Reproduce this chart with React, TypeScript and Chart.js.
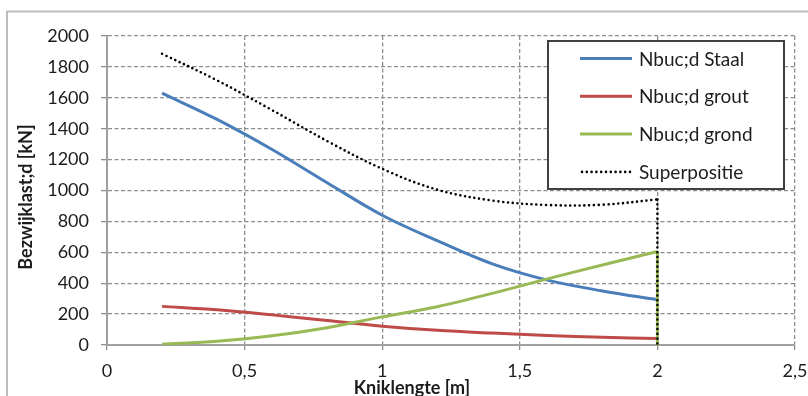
import React, { useEffect, useRef } from 'react';
import { Chart, registerables } from 'chart.js';

Chart.register(...registerables);

// ---- data ----
const kniklengte = [0.2, 0.4, 0.6, 0.8, 1.0, 1.2, 1.4, 1.6, 1.8, 2.0];
const staal = [1630, 1460, 1265, 1050, 840, 675, 525, 420, 350, 293];
const grout = [250, 228, 195, 158, 122, 95, 77, 62, 50, 42];
const grond = [5, 25, 60, 112, 182, 248, 334, 428, 518, 605];
const superpositie = [1885, 1713, 1520, 1320, 1140, 1005, 935, 906, 908, 942];
const seriesNames = ['Nbuc;d Staal', 'Nbuc;d grout', 'Nbuc;d grond', 'Superpositie'];
const xTickValues = [0, 0.5, 1, 1.5, 2, 2.5];
const yTickStep = 200;
const yMax = 2000;
const xTitle = 'Kniklengte [m]';
const yTitle = 'Bezwijklast;d [kN]';

const COLORS = { staal: '#4a7ebb', grout: '#be4b48', grond: '#98b954', sup: '#000000' };
const TEXT = '#1c1c1c';
const FONT = 'Lato';
const GRID = '#8e8e8e';

const pts = (ys: number[]) => kniklengte.map((x, i) => ({ x, y: ys[i] }));
const drop = (ys: number[]) => {
  const last = kniklengte.length - 1;
  return [
    { x: kniklengte[last], y: ys[last] },
    { x: kniklengte[last], y: 0 },
  ];
};

const framePlugin = {
  id: 'frame',
  beforeDraw(chart: any) {
    const { ctx, width, height } = chart;
    ctx.save();
    ctx.fillStyle = '#ffffff';
    ctx.fillRect(0, 0, width, height);
    ctx.strokeStyle = '#bdbdbd';
    ctx.lineWidth = 2;
    ctx.strokeRect(7, 11.5, width + 50, height + 50);
    ctx.restore();
  },
};

const overlayPlugin = {
  id: 'overlay',
  afterDraw(chart: any) {
    const { ctx } = chart;
    ctx.save();
    // axis titles
    ctx.fillStyle = TEXT;
    ctx.font = `bold 18px ${FONT}`;
    ctx.textAlign = 'center';
    ctx.textBaseline = 'middle';
    ctx.fillText(xTitle, 412, 388);
    ctx.translate(26, 197);
    ctx.rotate(-Math.PI / 2);
    ctx.fillText(yTitle, 0, 0);
    ctx.restore();

    // legend box
    ctx.save();
    ctx.fillStyle = '#ffffff';
    ctx.fillRect(548, 41, 236, 148);
    ctx.strokeStyle = '#404040';
    ctx.lineWidth = 2;
    ctx.strokeRect(548, 41, 236, 148);
    const items = chart.data.datasets.filter((d: any) => d.inLegend);
    items.sort((a: any, b: any) => a.legendIndex - b.legendIndex);
    items.forEach((d: any, i: number) => {
      const y = 58.5 + i * 37.8;
      ctx.beginPath();
      ctx.strokeStyle = d.borderColor;
      ctx.lineWidth = d.borderWidth;
      ctx.setLineDash(d.borderDash || []);
      ctx.lineCap = d.borderCapStyle || 'butt';
      ctx.moveTo(d.borderDash ? 582 : 580, y);
      ctx.lineTo(632, y);
      ctx.stroke();
      ctx.setLineDash([]);
      ctx.fillStyle = TEXT;
      ctx.font = `19px ${FONT}`;
      ctx.textAlign = 'left';
      ctx.textBaseline = 'middle';
      ctx.fillText(d.label, 639, y + 1);
    });
    ctx.restore();
  },
};

export default function App() {
  const ref = useRef<HTMLCanvasElement>(null);

  useEffect(() => {
    if (!ref.current) return;
    const solid = (label: string, data: any[], color: string, legendIndex: number) => ({
      label,
      data,
      borderColor: color,
      backgroundColor: color,
      borderWidth: 3,
      pointRadius: 0,
      tension: 0.35,
      fill: false,
      inLegend: true,
      legendIndex,
    });
    const dotted = {
      borderColor: COLORS.sup,
      backgroundColor: COLORS.sup,
      borderWidth: 2.6,
      borderDash: [0, 4.8],
      borderCapStyle: 'round',
      pointRadius: 0,
      fill: false,
    };
    const chart = new Chart(ref.current, {
      type: 'line',
      data: {
        datasets: [
          { ...dotted, label: seriesNames[3], data: pts(superpositie), tension: 0.35, inLegend: true, legendIndex: 3 },
          { ...dotted, label: seriesNames[3] + ' drop', data: drop(superpositie), tension: 0 },
          solid(seriesNames[2], pts(grond), COLORS.grond, 2),
          { ...solid(seriesNames[2] + ' drop', drop(grond), COLORS.grond, 9), inLegend: false, tension: 0 },
          solid(seriesNames[1], pts(grout), COLORS.grout, 1),
          solid(seriesNames[0], pts(staal), COLORS.staal, 0),
        ] as any,
      },
      options: {
        responsive: false,
        animation: false,
        events: [],
        layout: { padding: { top: 36, right: 13, left: 0, bottom: 0 } },
        plugins: { legend: { display: false }, tooltip: { enabled: false }, title: { display: false } },
        scales: {
          x: {
            type: 'linear',
            min: 0,
            max: 2.5,
            afterBuildTicks: (s: any) => {
              s.ticks = xTickValues.map((v) => ({ value: v }));
            },
            afterFit: (s: any) => {
              s.height = 51;
              s.paddingLeft = 0;
              s.paddingRight = 0;
            },
            ticks: {
              color: TEXT,
              font: { family: FONT, size: 18 },
              padding: 10,
              maxRotation: 0,
              callback: (v: any) => String(v).replace('.', ','),
            },
            grid: {
              color: GRID,
              lineWidth: 1.3,
              tickLength: 5,
              tickColor: GRID,
              tickBorderDash: [],
            },
            border: { color: '#a0a0a0', width: 2, dash: [4, 2.5] },
          },
          y: {
            type: 'linear',
            min: 0,
            max: yMax,
            afterFit: (s: any) => {
              s.width = 107;
              s.paddingTop = 0;
              s.paddingBottom = 0;
            },
            ticks: {
              stepSize: yTickStep,
              color: TEXT,
              font: { family: FONT, size: 18 },
              padding: 12,
              callback: (v: any) => String(v),
            },
            grid: {
              color: GRID,
              lineWidth: 1.3,
              tickLength: 6,
              tickColor: GRID,
              tickBorderDash: [],
            },
            border: { color: '#a0a0a0', width: 2, dash: [4, 2.5] },
          },
        },
      } as any,
      plugins: [framePlugin, overlayPlugin],
    });
    return () => chart.destroy();
  }, []);

  return (
    <div style={{ position: 'absolute', left: 0, top: 0, width: 808, height: 396 }}>
      <canvas ref={ref} width={808} height={396} />
    </div>
  );
}
